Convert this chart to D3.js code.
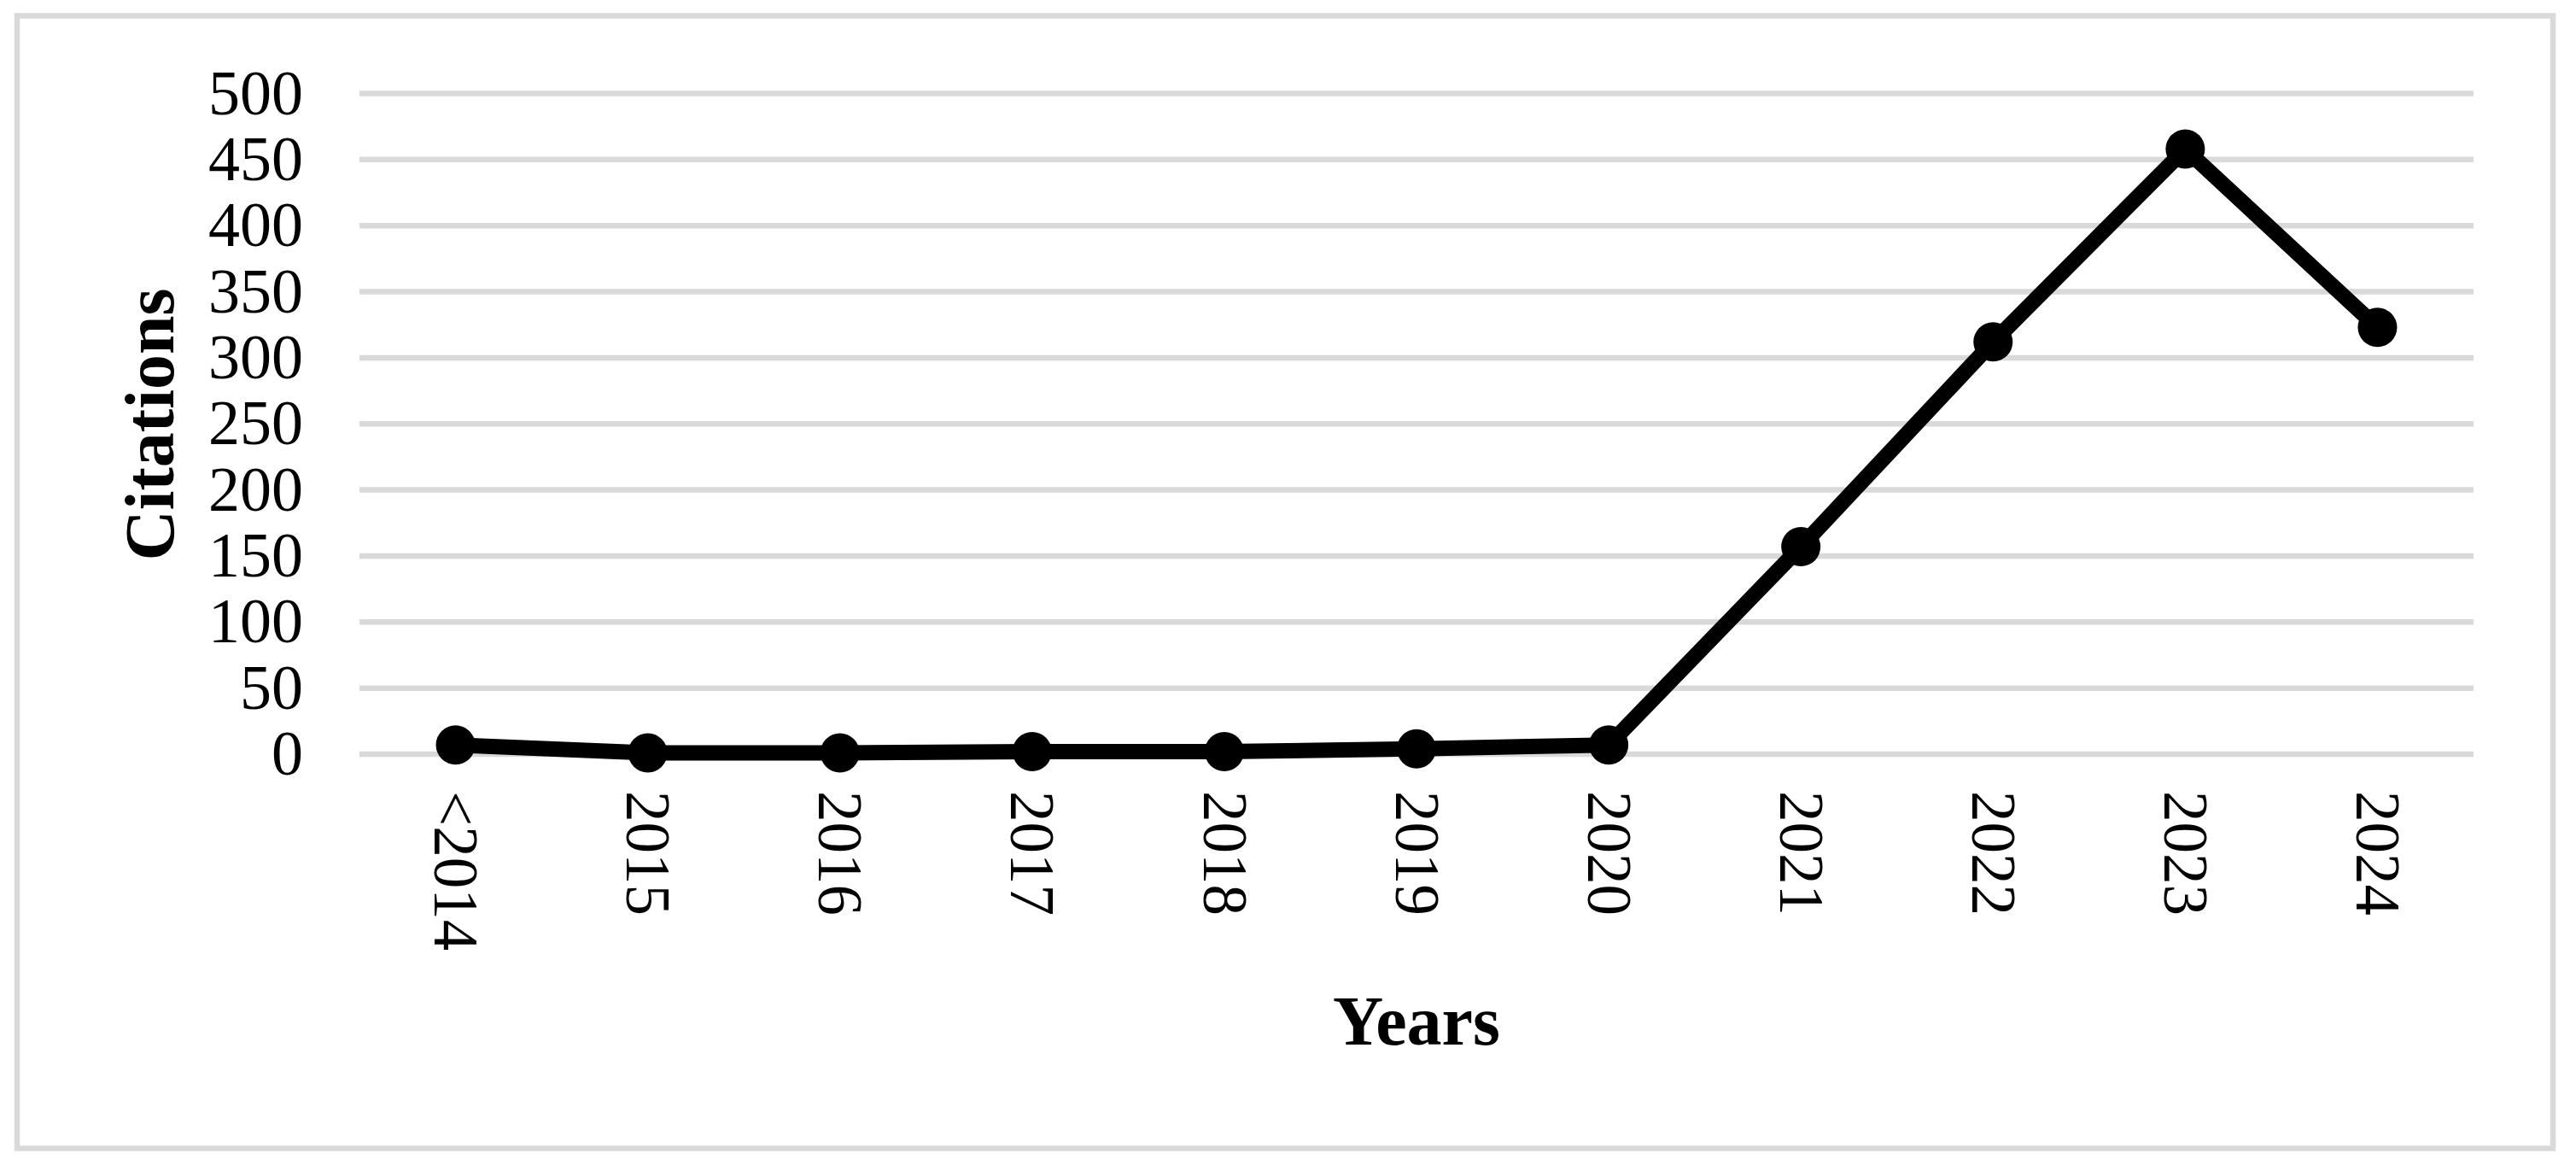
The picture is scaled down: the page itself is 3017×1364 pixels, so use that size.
<!DOCTYPE html>
<html>
<head>
<meta charset="utf-8">
<script src="https://cdn.jsdelivr.net/npm/d3@7"></script>
<style>
  html, body { margin: 0; padding: 0; background: #fff; }
  svg { display: block; }
</style>
</head>
<body>
<div id="chart"></div>
<script>
// <-- Data -->
var years = ["<2014", "2015", "2016", "2017", "2018", "2019", "2020", "2021", "2022", "2023", "2024"];
var citations = [7, 1, 1, 2, 2, 4, 7, 157, 312, 458, 323];
var yTicks = [0, 50, 100, 150, 200, 250, 300, 350, 400, 450, 500];

;(function(){
  var width = 3017;
  var height = 1364;
  var font = "'Liberation Serif', 'Times New Roman', serif";

  var svg = d3.select("#chart")
              .append("svg")
              .attr("width", width)
              .attr("height", height);

  // outer frame
  svg.append("rect")
     .attr("x", 20)
     .attr("y", 18.5)
     .attr("width", 2970)
     .attr("height", 1326)
     .attr("fill", "#fff")
     .attr("stroke", "#d9d9d9")
     .attr("stroke-width", 6.5);

  var x = d3.scalePoint()
            .domain(years)
            .range([421, 2897])
            .padding(0.5);

  var y = d3.scaleLinear()
            .domain([0, 500])
            .range([883, 109.5]);

  // grid lines
  svg.append("g")
     .selectAll("line")
     .data(yTicks)
     .enter()
     .append("line")
     .attr("x1", 421)
     .attr("x2", 2897)
     .attr("y1", function(d){ return y(d); })
     .attr("y2", function(d){ return y(d); })
     .attr("stroke", "#d9d9d9")
     .attr("stroke-width", 6.5);

  // y axis labels
  var yAxis = d3.axisLeft(y)
                .tickValues(yTicks)
                .tickSize(0)
                .tickPadding(0);
  var gy = svg.append("g")
              .attr("transform", "translate(355,0)")
              .call(yAxis);
  gy.select(".domain").remove();
  gy.selectAll("text")
    .attr("x", 0)
    .attr("dy", "0.32em")
    .attr("fill", "#000")
    .style("font-family", font)
    .style("font-size", "74px");

  // x axis labels, turned 90deg
  var xAxis = d3.axisBottom(x)
                .tickSize(0)
                .tickPadding(0);
  var gx = svg.append("g")
              .attr("transform", "translate(0,926)")
              .call(xAxis);
  gx.select(".domain").remove();
  gx.selectAll("text")
    .attr("y", 0)
    .attr("dy", "0.34em")
    .attr("transform", "rotate(90)")
    .attr("text-anchor", "start")
    .attr("fill", "#000")
    .style("font-family", font)
    .style("font-size", "73px");

  // line
  var line = d3.line()
               .x(function(d, i){ return x(years[i]); })
               .y(function(d){ return y(d); });

  svg.append("path")
     .datum(citations)
     .attr("d", line)
     .attr("fill", "none")
     .attr("stroke", "#000")
     .attr("stroke-width", 18)
     .attr("stroke-linejoin", "round");

  // markers
  svg.append("g")
     .selectAll("circle")
     .data(citations)
     .enter()
     .append("circle")
     .attr("cx", function(d, i){ return x(years[i]); })
     .attr("cy", function(d){ return y(d); })
     .attr("r", 23)
     .attr("fill", "#000");

  // axis titles
  svg.append("text")
     .attr("transform", "translate(203,497) rotate(-90)")
     .attr("text-anchor", "middle")
     .style("font-family", font)
     .style("font-weight", "bold")
     .style("font-size", "82px")
     .text("Citations");

  svg.append("text")
     .attr("x", 1659)
     .attr("y", 1223)
     .attr("text-anchor", "middle")
     .style("font-family", font)
     .style("font-weight", "bold")
     .style("font-size", "82px")
     .text("Years");
})();
</script>
</body>
</html>
